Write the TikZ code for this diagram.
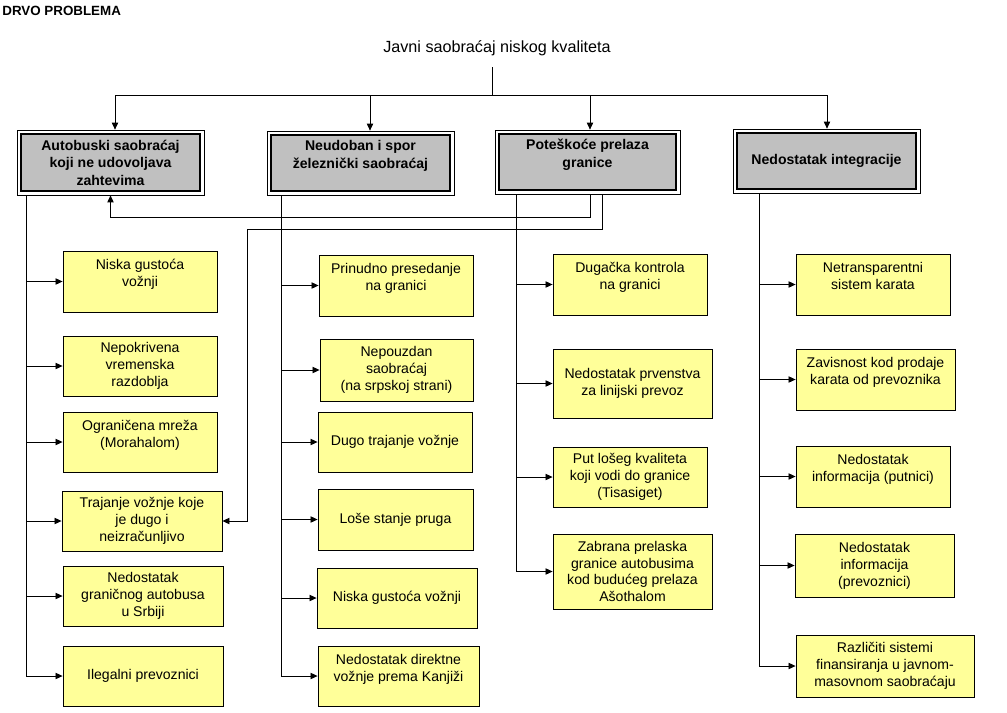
\documentclass[tikz,border=0pt]{standalone}
\usepackage{fontspec}
\setmainfont{Liberation Sans}
\usetikzlibrary{arrows.meta,calc}
\newdimen\px
\px=0.025cm
\definecolor{boxgray}{HTML}{C0C0C0}
\definecolor{boxyellow}{HTML}{FFFF99}
\begin{document}
\begin{tikzpicture}[
  x=0.025cm, y=-0.025cm,
  line width=0.6pt,
  conn/.style={-{Triangle[length=5pt,width=4.5pt]}},
  problem/.style 2 args={rectangle, draw=black, line width=0.5pt, fill=white,
    minimum width=#1\px, minimum height=#2\px, inner sep=0pt,
    align=center, font=\bfseries\fontsize{10}{12.4}\selectfont,
    path picture={\draw[line width=1.4pt, fill=boxgray]
      ([shift={(2.6pt,-2.6pt)}]path picture bounding box.north west) rectangle
      ([shift={(-2.6pt,2.6pt)}]path picture bounding box.south east);}},
  cause/.style 2 args={rectangle, draw=black, fill=boxyellow, line width=0.6pt,
    minimum width=#1\px, minimum height=#2\px, inner sep=0pt,
    align=center, font=\fontsize{10}{12}\selectfont}
]
  \useasboundingbox (0,0) rectangle (1007,712);

  % Naslov i koren
  \node[font=\bfseries\fontsize{9.5}{11}\selectfont, anchor=west, inner sep=0pt]
    (naslov) at (2,11) {DRVO PROBLEMA};
  \node[font=\fontsize{11.5}{14}\selectfont, inner ysep=8pt]
    (koren) at (497,48) {Javni saobraćaj niskog kvaliteta};
  \coordinate (grana) at (492,95);

  % Glavni problemi
  \node[problem={187}{65}] (autobus) at (110.5,162.5)
    {Autobuski saobraćaj\\koji ne udovoljava\\zahtevima};
  \node[problem={187}{64}] (zeleznica) at (360.5,163)
    {Neudoban i spor\\železnički saobraćaj\\\mbox{}};
  \node[problem={185}{64}] (granica) at (587.5,162)
    {Poteškoće prelaza\\granice\\\mbox{}};
  \node[problem={187}{64}] (integracija) at (826.5,161)
    {Nedostatak integracije};

  % Uzroci: autobuski saobracaj
  \node[cause={154}{61}] (a1) at (140,281.5) {Niska gustoća\\vožnji\\\mbox{}};
  \node[cause={154}{60}] (a2) at (140,366) {Nepokrivena\\vremenska\\razdoblja};
  \node[cause={154}{60}] (a3) at (140,442) {Ograničena mreža\\(Morahalom)\\\mbox{}};
  \node[cause={160}{60}] (a4) at (142,521) {Trajanje vožnje koje\\je dugo i\\neizračunljivo};
  \node[cause={160}{60}] (a5) at (143,596) {Nedostatak\\graničnog autobusa\\u Srbiji};
  \node[cause={160}{60}] (a6) at (143,676) {Ilegalni prevoznici};

  % Uzroci: zeleznicki saobracaj
  \node[cause={154}{61}] (b1) at (396,285.5) {Prinudno presedanje\\na granici\\\mbox{}};
  \node[cause={153}{62}] (b2) at (396.5,370) {Nepouzdan\\saobraćaj\\(na srpskoj strani)};
  \node[cause={154}{60}] (b3) at (395,442) {Dugo trajanje vožnje};
  \node[cause={155}{61}] (b4) at (395.5,519.5) {Loše stanje pruga};
  \node[cause={160}{60}] (b5) at (397,598) {Niska gustoća vožnji};
  \node[cause={161}{60}] (b6) at (398.5,676) {Nedostatak direktne\\vožnje prema Kanjiži\\\mbox{}};

  % Uzroci: prelaz granice
  \node[cause={154}{61}] (c1) at (630,284.5) {Dugačka kontrola\\na granici\\\mbox{}};
  \node[cause={159}{69}] (c2) at (632.5,383.5) {Nedostatak prvenstva\\za linijski prevoz};
  \node[cause={154}{60}] (c3) at (630,477) {Put lošeg kvaliteta\\koji vodi do granice\\(Tisasiget)};
  \node[cause={159}{75}] (c4) at (632.5,571.5) {Zabrana prelaska\\granice autobusima\\kod budućeg prelaza\\Ašothalom};

  % Uzroci: integracija
  \node[cause={154}{61}] (d1) at (873,284.5) {Netransparentni\\sistem karata\\\mbox{}};
  \node[cause={159}{61}] (d2) at (875.5,379.5) {Zavisnost kod prodaje\\karata od prevoznika\\\mbox{}};
  \node[cause={154}{61}] (d3) at (873,476.5) {Nedostatak\\informacija (putnici)\\\mbox{}};
  \node[cause={159}{63}] (d4) at (874.5,565.5) {Nedostatak\\informacija\\(prevoznici)};
  \node[cause={178}{62}] (d5) at (885,666) {Različiti sistemi\\finansiranja u javnom-\\masovnom saobraćaju};

  % Veze koren -> glavni problemi
  \draw (koren.south -| grana) -- (grana);
  \draw[conn] (grana) -| ($(autobus.north)+(4.5,0)$);
  \draw[conn] (grana) -| ($(zeleznica.north)+(9.5,0)$);
  \draw[conn] (grana) -| ($(granica.north)+(2.5,0)$);
  \draw[conn] (grana) -| ($(integracija.north)+(0.5,0)$);

  % Veze glavni problemi -> uzroci
  \foreach \i in {1,...,6} {
    \draw[conn] ([xshift=10\px]autobus.south west) |- (a\i.west);
    \draw[conn] ([xshift=15\px]zeleznica.south west) |- (b\i.west);
  }
  \foreach \i in {1,...,4} {
    \draw[conn] ([xshift=22\px]granica.south west) |- (c\i.west);
  }
  \foreach \i in {1,...,5} {
    \draw[conn] ([xshift=27\px]integracija.south west) |- (d\i.west);
  }

  % Povratne veze
  \draw[conn] ($(granica.south)+(2.5,0)$) -- ++(0,23) -| (autobus.south);
  \draw[conn] ($(granica.south)+(14.5,0)$) -- ++(0,35) -- ++(-355,0) |- (a4.east);
\end{tikzpicture}
\end{document}
